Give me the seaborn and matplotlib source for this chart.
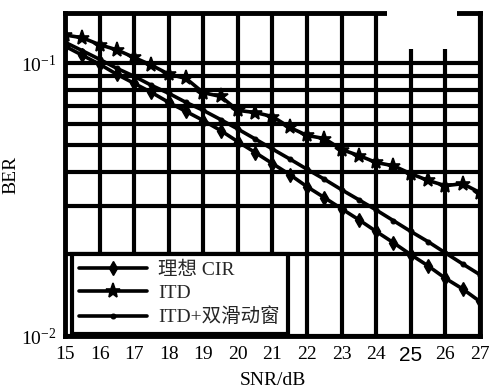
import numpy as np
import pandas as pd
import matplotlib
matplotlib.use("Agg")
import matplotlib.pyplot as plt
from matplotlib.patches import Rectangle
import seaborn as sns

snr = [15.0, 15.5, 16.0, 16.5, 17.0, 17.5, 18.0, 18.5, 19.0, 19.5, 20.0, 20.5,
       21.0, 21.5, 22.0, 22.5, 23.0, 23.5, 24.0, 24.5, 25.0, 25.5, 26.0, 26.5, 27.0]
ber_ideal = [0.1155, 0.1070, 0.0992, 0.0911, 0.0844, 0.0782, 0.0719, 0.0666, 0.0617,
             0.0567, 0.0516, 0.0471, 0.0429, 0.0391, 0.0353, 0.0322, 0.0293, 0.0267,
             0.0242, 0.0220, 0.0199, 0.0181, 0.0163, 0.0149, 0.0134]
ber_itd = [0.127, 0.124, 0.117, 0.112, 0.105, 0.0984, 0.0912, 0.088, 0.078, 0.0756,
           0.0672, 0.066, 0.0638, 0.0582, 0.0544, 0.053, 0.0483, 0.0459, 0.0433,
           0.0421, 0.0394, 0.0372, 0.0356, 0.0362, 0.0336]
ber_dual = [0.1194, 0.1112, 0.1034, 0.0958, 0.0896, 0.0830, 0.0776, 0.0719, 0.0672,
            0.0622, 0.0574, 0.0528, 0.0485, 0.0446, 0.0409, 0.0376, 0.0344, 0.0316,
            0.0290, 0.0265, 0.0242, 0.0222, 0.0202, 0.0184, 0.0168]
series_names = ["理想 CIR", "ITD", "ITD+双滑动窗"]
xticks = list(range(15, 28))

sns.set_theme(style="white")
plt.rcParams["font.family"] = ["Liberation Serif", "Noto Sans CJK SC"]
plt.rcParams["mathtext.fontset"] = "custom"
plt.rcParams["mathtext.rm"] = "Liberation Serif"
plt.rcParams["mathtext.it"] = "Liberation Serif:italic"
plt.rcParams["axes.unicode_minus"] = True

fig = plt.figure(figsize=(4.91, 3.90), dpi=100)
ax = fig.add_axes([0.1324, 0.138, 0.845, 0.829])

styles = [
    dict(marker="d", markersize=7, markeredgewidth=1.0),
    dict(marker="*", markersize=11, markeredgewidth=1.2),
    dict(marker="o", markersize=3.5, markeredgewidth=0.8),
]
for name, vals, st in zip(series_names, [ber_ideal, ber_itd, ber_dual], styles):
    df = pd.DataFrame({"SNR": snr, "BER": vals})
    sns.lineplot(data=df, x="SNR", y="BER", ax=ax, color="black", linewidth=2.6,
                 markerfacecolor="black", markeredgecolor="black", label=name,
                 zorder=4, **st)

ax.set_yscale("log")
ax.set_xlim(15, 27)
ax.set_ylim(0.01, 0.153)
ax.set_xticks(xticks)
ax.set_xticklabels([str(t) for t in xticks])
ax.set_yticks([0.01, 0.1])
ax.set_yticklabels([r"$10^{-2}$", r"$10^{-1}$"])
ax.yaxis.set_minor_formatter(matplotlib.ticker.NullFormatter())
ax.tick_params(axis="both", which="both", length=0, labelsize=14, colors="black")
ax.tick_params(axis="x", pad=7)
ax.tick_params(axis="y", pad=6)

ax.grid(True, which="major", axis="x", color="black", linewidth=3.0)
ax.grid(True, which="both", axis="y", color="black", linewidth=3.0)
ax.set_axisbelow(True)
for sp in ax.spines.values():
    sp.set_visible(True)
    sp.set_color("black")
    sp.set_linewidth(3.5)

for lab in ax.get_xticklabels():
    if lab.get_text() == "25":
        lab.set_fontfamily("Liberation Sans")
        lab.set_fontsize(15)

ax.set_xlabel("SNR/dB", fontsize=14, color="black", labelpad=5)
ax.set_ylabel("BER", fontsize=14, color="black", labelpad=1)

leg = ax.legend(loc="lower left", bbox_to_anchor=(0.016, 0.006), borderaxespad=0,
                fontsize=14, fancybox=False, framealpha=1, edgecolor="black",
                handlelength=3.5, handletextpad=0.55, labelspacing=0.28,
                borderpad=0.4)
leg.get_frame().set_linewidth(3.0)
leg.set_zorder(20)

ax.add_patch(Rectangle((0.777, 0.889), 0.168, 0.2, transform=ax.transAxes,
                       facecolor="white", edgecolor="none", zorder=10, clip_on=False))

fig.savefig("out.png", dpi=100)
